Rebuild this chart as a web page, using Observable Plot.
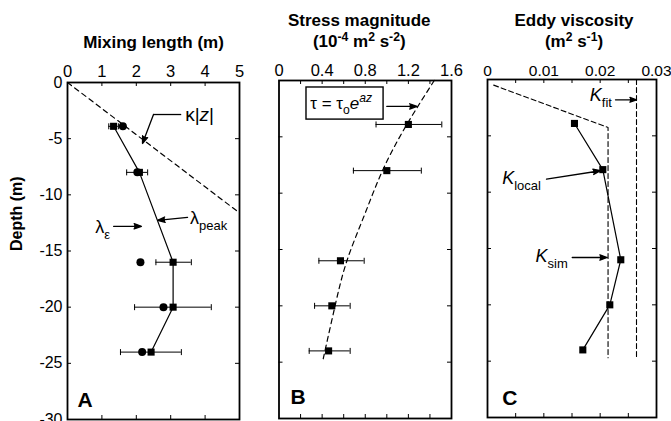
<!DOCTYPE html>
<html><head><meta charset="utf-8">
<script src="https://cdn.jsdelivr.net/npm/d3@7"></script>
<script src="https://cdn.jsdelivr.net/npm/@observablehq/plot@0.6"></script>
<style>
html,body{margin:0;padding:0;background:#fff;}
#fig{position:relative;width:671px;height:421px;overflow:hidden;}
#fig svg{position:absolute;top:0;}
</style></head><body><div id="fig"></div>
<script>
// ---------- data ----------
const depth = [-3.9, -8, -16, -20, -24];
// Panel A: mixing length (m)
const lambdaPeak   = [1.34, 2.09, 3.07, 3.07, 2.43];
const lambdaPeakLo = [1.20, 1.72, 2.57, 1.95, 1.54];
const lambdaPeakHi = [1.48, 2.33, 3.60, 4.18, 3.31];
const lambdaEps    = [1.61, 2.03, 2.12, 2.79, 2.17];
const kappaLineX = [0, 4.91];
const kappaLineZ = [0, -11.4];
// Panel B: stress magnitude (1e-4 m2 s-2)
const stress   = [1.20, 1.00, 0.57, 0.49, 0.46];
const stressLo = [0.90, 0.69, 0.37, 0.33, 0.28];
const stressHi = [1.51, 1.32, 0.79, 0.66, 0.66];
const stressFitZ = [0, -4, -8, -12, -16, -20, -24.7];
const stressFitX = [1.44, 1.18, 0.96, 0.79, 0.63, 0.52, 0.41];
// Panel C: eddy viscosity (m2 s-1)
const kLocal = [0.01544, 0.02047, 0.02366, 0.02171, 0.01692];
const kSimX = [0.0011, 0.0214, 0.0214];
const kSimZ = [-0.5, -4.26, -24.7];
const kFitX = [0.02645, 0.02645];
const kFitZ = [0, -24.7];
// ticks
const depthTickVals = [0, -5, -10, -15, -20, -25, -30];
const depthMinor = [-5, -10, -15, -20, -25];
const mixTickVals = [0, 1, 2, 3, 4, 5];
const mixTickLabels = ["0", "1", "2", "3", "4", "5"];
const mixMinor = [1, 2, 3, 4];
const stressTickVals = [0, 0.4, 0.8, 1.2, 1.6];
const stressTickLabels = ["0", "0.4", "0.8", "1.2", "1.6"];
const stressMinor = [0.2, 0.4, 0.6, 0.8, 1.0, 1.2, 1.4];
const eddyTickVals = [0, 0.01, 0.02, 0.03];
const eddyTickLabels = ["0", "0.01", "0.02", "0.03"];
const eddyMinor = [0.005, 0.01, 0.015, 0.02, 0.025];
// annotations (data coordinates)
const kappaLabel = {x: 3.42, z: -2.85, text: "κ|*z*|"};
const kappaLeader = [{x1: 3.32, x2: 2.50, z: -2.85}];
const kappaArrow = [{x1: 2.50, z1: -2.85, x2: 2.18, z2: -5.43}];
const peakLabel = {x: 3.56, z: -12.1, text: "λ_{peak}"};
const peakArrow = [{x1: 3.49, z1: -12.0, x2: 2.62, z2: -12.28}];
const epsLabel = {x: 0.81, z: -12.9, text: "λ_{ε}"};
const epsArrow = [{x1: 1.34, z1: -12.8, x2: 2.15, z2: -12.8}];
const formulaLabel = {x: 0.29, z: -2.04, text: "τ = τ_{o}*e*^{*az*}"};
const formulaBox = [{x1: 0.255, x2: 0.97, z1: -0.62, z2: -3.47}];
const formulaArrow = [{x1: 1.0, z1: -2.3, x2: 1.28, z2: -2.3}];
const kFitLabel = {x: 0.01816, z: -1.43, text: "*K*_{fit}"};
const kFitArrow = [{x1: 0.02272, z1: -1.8, x2: 0.02645, z2: -1.8}];
const kLocalLabel = {x: 0.0026, z: -8.8, text: "*K*_{local}"};
const kLocalArrow = [{x1: 0.01047, z1: -8.84, x2: 0.02006, z2: -8.1}];
const kSimLabel = {x: 0.00852, z: -15.7, text: "*K*_{sim}"};
const kSimArrow = [{x1: 0.01504, z1: -15.8, x2: 0.02125, z2: -15.8}];
const panelLetters = [{x: 0.29, z: -28.9, text: "A"}, {x: 0.107, z: -28.7, text: "B"}, {x: 0.0026, z: -28.9, text: "C"}];

// ---------- helpers ----------
const FONT = "'Liberation Sans', Arial, Helvetica, sans-serif";
const H = 421;
const vbar = {draw(ctx, size) { const r = Math.sqrt(size / Math.PI); ctx.moveTo(0, -r); ctx.lineTo(0, r); }};
const rows = (xs, zs) => xs.map((x, i) => ({x, z: zs[i]}));

function frameMarks(cfg) {
  const fw = cfg.width - cfg.ml - cfg.mr, fh = H - cfg.mt - cfg.mb;
  return [
    Plot.tickX(cfg.xMinor, {x: d => d, insetBottom: fh - 4, strokeWidth: 1}),
    Plot.tickX(cfg.xMinor, {x: d => d, insetTop: fh - 4, strokeWidth: 1}),
    Plot.tickY(depthMinor, {y: d => d, insetRight: fw - 4, strokeWidth: 1}),
    Plot.tickY(depthMinor, {y: d => d, insetLeft: fw - 4, strokeWidth: 1}),
    Plot.text(cfg.xTickVals, {x: d => d, text: (d, i) => cfg.xTickLabels[i], frameAnchor: "top", lineAnchor: "bottom", dy: -cfg.tp, fontSize: cfg.tfs}),
    Plot.frame({stroke: "black", strokeWidth: 1.8})
  ];
}
function arrowMark(data) {
  return Plot.arrow(data, {x1: "x1", y1: "z1", x2: "x2", y2: "z2", stroke: "black", strokeWidth: 1.3, headLength: 9, headAngle: 40, ariaLabel: "arrow"});
}
function label(o, size, extra = {}) {
  return Plot.text([o], {x: "x", y: "z", text: "text", textAnchor: "start", lineAnchor: "middle", fontSize: size, ...extra});
}
function letter(o) {
  return Plot.text([o], {x: "x", y: "z", text: "text", textAnchor: "start", lineAnchor: "bottom", fontSize: 21, fontWeight: "bold"});
}
function errorBars(xs, lo, hi) {
  const d = depth.map((z, i) => ({z, x: xs[i], lo: lo[i], hi: hi[i]}));
  return [
    Plot.ruleY(d, {y: "z", x1: "lo", x2: "hi", stroke: "black", strokeWidth: 1}),
    Plot.dot(d, {x: "lo", y: "z", symbol: vbar, r: 3, stroke: "black", fill: "none", strokeWidth: 1}),
    Plot.dot(d, {x: "hi", y: "z", symbol: vbar, r: 3, stroke: "black", fill: "none", strokeWidth: 1})
  ];
}
function richify(svg) {
  svg.querySelectorAll("text").forEach(t => {
    const s = t.textContent;
    if (!/[_^*]/.test(s)) return;
    const fs = parseFloat(getComputedStyle(t).fontSize) || 16;
    while (t.firstChild) t.removeChild(t.firstChild);
    const re = /([_^])\{([^}]*)\}|\*([^*]+)\*|([^_^*]+)/g;
    let m, shift = 0;
    const ns = "http://www.w3.org/2000/svg";
    while ((m = re.exec(s))) {
      const ts = document.createElementNS(ns, "tspan");
      let txt, target = 0, italic = false, small = false;
      if (m[1]) {
        txt = m[2];
        if (/^\*.*\*$/.test(txt)) { txt = txt.slice(1, -1); italic = true; }
        small = true;
        target = m[1] === "_" ? 0.32 * fs : -0.38 * fs;
      } else if (m[3]) { txt = m[3]; italic = true; }
      else txt = m[4];
      ts.textContent = txt;
      if (italic) ts.setAttribute("font-style", "italic");
      if (small) ts.setAttribute("font-size", (0.72 * fs).toFixed(1));
      const dy = target - shift;
      if (dy !== 0) ts.setAttribute("dy", dy.toFixed(2));
      shift = target;
      t.appendChild(ts);
    }
  });
  // filled arrowheads: the head is a separate sub-path of each arrow path
  svg.querySelectorAll('g[aria-label="arrow"]').forEach(g => {
    g.setAttribute("fill", "black");
    g.querySelectorAll("path").forEach(p => { p.setAttribute("fill", "black"); p.setAttribute("stroke-linejoin", "miter"); });
  });
}
function place(svg, left) {
  svg.style.left = left + "px";
  document.getElementById("fig").appendChild(svg);
  richify(svg);
}
const baseStyle = {fontFamily: FONT, fontSize: "15px", background: "transparent", color: "black", overflow: "visible"};

// ---------- Panel A ----------
const cfgA = {width: 250, ml: 67, mr: 11, mt: 82, mb: 2, tp: 6, tfs: 16.5, xMinor: mixMinor, xTickVals: mixTickVals, xTickLabels: mixTickLabels};
const dA = depth.map((z, i) => ({z, peak: lambdaPeak[i], eps: lambdaEps[i]}));
const plotA = Plot.plot({
  width: cfgA.width, height: H, marginLeft: cfgA.ml, marginRight: cfgA.mr, marginTop: cfgA.mt, marginBottom: cfgA.mb,
  style: baseStyle,
  x: {domain: [0, 5], axis: null},
  y: {domain: [-30, 0], axis: null},
  marks: [
    ...frameMarks(cfgA),
    Plot.text(depthTickVals, {y: d => d, text: d => String(d), frameAnchor: "left", textAnchor: "end", dx: -5, fontSize: 16}),
    Plot.text(["Depth (m)"], {frameAnchor: "left", dx: -51, rotate: -90, fontSize: 16, fontWeight: "bold"}),
    Plot.text(["Mixing length (m)"], {frameAnchor: "top", lineAnchor: "bottom", dy: -35, fontSize: 17, fontWeight: "bold"}),
    Plot.line(rows(kappaLineX, kappaLineZ), {x: "x", y: "z", stroke: "black", strokeWidth: 1.2, strokeDasharray: "5,4"}),
    ...errorBars(lambdaPeak, lambdaPeakLo, lambdaPeakHi),
    Plot.line(dA, {x: "peak", y: "z", stroke: "black", strokeWidth: 1.2}),
    Plot.dot(dA, {x: "eps", y: "z", r: 4, fill: "black", stroke: "none"}),
    Plot.dot(dA, {x: "peak", y: "z", symbol: "square", r: 4, fill: "black", stroke: "none"}),
    Plot.ruleY(kappaLeader, {y: "z", x1: "x1", x2: "x2", stroke: "black", strokeWidth: 1.3}),
    arrowMark(kappaArrow),
    arrowMark(peakArrow),
    arrowMark(epsArrow),
    label(kappaLabel, 19),
    label(peakLabel, 18),
    label(epsLabel, 18),
    letter(panelLetters[0])
  ]
});
place(plotA, 0);

// ---------- Panel B ----------
const cfgB = {width: 210, ml: 28.5, mr: 9, mt: 80, mb: 3, tp: 5, tfs: 16.5, xMinor: stressMinor, xTickVals: stressTickVals, xTickLabels: stressTickLabels};
const plotB = Plot.plot({
  width: cfgB.width, height: H, marginLeft: cfgB.ml, marginRight: cfgB.mr, marginTop: cfgB.mt, marginBottom: cfgB.mb,
  style: baseStyle,
  x: {domain: [0, 1.6], axis: null},
  y: {domain: [-30, 0], axis: null},
  marks: [
    ...frameMarks(cfgB),
    Plot.text(["Stress magnitude"], {frameAnchor: "top", lineAnchor: "bottom", dy: -55, dx: -6, fontSize: 17, fontWeight: "bold"}),
    Plot.text(["(10^{-4} m^{2} s^{-2})"], {frameAnchor: "top", lineAnchor: "bottom", dy: -33.5, dx: -6, fontSize: 17, fontWeight: "bold"}),
    Plot.line(rows(stressFitX, stressFitZ), {x: "x", y: "z", curve: "natural", stroke: "black", strokeWidth: 1.2, strokeDasharray: "5,4"}),
    ...errorBars(stress, stressLo, stressHi),
    Plot.dot(depth.map((z, i) => ({z, x: stress[i]})), {x: "x", y: "z", symbol: "square", r: 4, fill: "black", stroke: "none"}),
    Plot.rect(formulaBox, {x1: "x1", x2: "x2", y1: "z1", y2: "z2", fill: "none", stroke: "black", strokeWidth: 1.4}),
    arrowMark(formulaArrow),
    label(formulaLabel, 17),
    letter(panelLetters[1])
  ]
});
place(plotB, 250);

// ---------- Panel C ----------
const cfgC = {width: 211, ml: 27, mr: 15, mt: 79, mb: 4, tp: 4, tfs: 15.5, xMinor: eddyMinor, xTickVals: eddyTickVals, xTickLabels: eddyTickLabels};
const plotC = Plot.plot({
  width: cfgC.width, height: H, marginLeft: cfgC.ml, marginRight: cfgC.mr, marginTop: cfgC.mt, marginBottom: cfgC.mb,
  style: baseStyle,
  x: {domain: [0, 0.03], axis: null},
  y: {domain: [-30, 0], axis: null},
  marks: [
    ...frameMarks(cfgC),
    Plot.text(["Eddy viscosity"], {frameAnchor: "top", lineAnchor: "bottom", dy: -54, dx: 2, fontSize: 17, fontWeight: "bold"}),
    Plot.text(["(m^{2} s^{-1})"], {frameAnchor: "top", lineAnchor: "bottom", dy: -32.5, dx: 2, fontSize: 17, fontWeight: "bold"}),
    Plot.line(rows(kSimX, kSimZ), {x: "x", y: "z", stroke: "black", strokeWidth: 1.1, strokeDasharray: "5,3"}),
    Plot.line(rows(kFitX, kFitZ), {x: "x", y: "z", stroke: "black", strokeWidth: 1.1, strokeDasharray: "5,3"}),
    Plot.line(depth.map((z, i) => ({z, x: kLocal[i]})), {x: "x", y: "z", stroke: "black", strokeWidth: 1.2}),
    Plot.dot(depth.map((z, i) => ({z, x: kLocal[i]})), {x: "x", y: "z", symbol: "square", r: 4, fill: "black", stroke: "none"}),
    arrowMark(kFitArrow),
    arrowMark(kLocalArrow),
    arrowMark(kSimArrow),
    label(kFitLabel, 18),
    label(kLocalLabel, 18),
    label(kSimLabel, 18),
    letter(panelLetters[2])
  ]
});
place(plotC, 460);
</script></body></html>
